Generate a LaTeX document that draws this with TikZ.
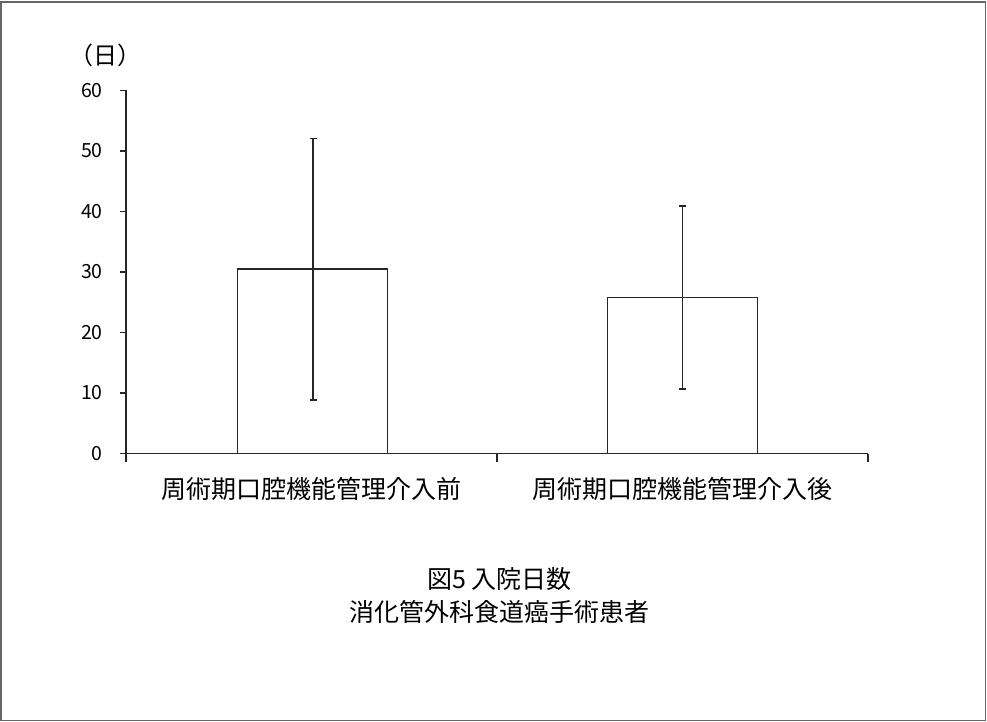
\documentclass[tikz,border=0pt]{standalone}
\usepackage{fontspec}
\setmainfont{Noto Sans CJK JP}
\begin{document}
\begin{tikzpicture}[x=1pt,y=-1pt,
  axisline/.style={line width=1.3pt,black!85},
  barbox/.style={line width=1.3pt,black!85,fill=white},
  errline/.style={line width=1.1pt,black!85},
  ticklabel/.style={anchor=east,inner sep=0pt,font=\fontsize{19.5}{19.5}\selectfont},
  catlabel/.style={inner sep=0pt,font=\fontsize{25}{25}\selectfont},
  titlelabel/.style={inner sep=0pt,align=center,font=\fontsize{25}{33}\selectfont}]
\useasboundingbox (0,0) rectangle (987,722);
% frame
\draw[line width=1.5pt,black!60] (1,2) rectangle (985.5,720.5);
% axis coordinates
\coordinate (o) at (126,453.5);
\coordinate (ytop) at (126,90.5);
\coordinate (xend) at (868,453.5);
% bars
\draw[barbox] (237.5,453.5) rectangle (387.5,269);
\draw[barbox] (607.5,453.5) rectangle (757.5,297.5);
% error bars
\foreach \x/\t/\b in {313/138.3/400, 682.7/206/389}{
  \draw[errline] (\x,\t) -- (\x,\b);
  \draw[errline] (\x-3.5,\t) -- (\x+3.5,\t);
  \draw[errline] (\x-3.5,\b) -- (\x+3.5,\b);
}
% axes
\draw[axisline] (ytop) -- (o) -- (xend);
\foreach \v in {0,10,...,60}{
  \pgfmathsetmacro{\yy}{453.5-6.05*\v}
  \draw[axisline] (120,\yy) -- (126,\yy);
  \node[ticklabel] (t\v) at (103,\yy) {\v};
}
\foreach \x in {126,497,868}{
  \draw[axisline] (\x,453.5) -- (\x,462);
}
\node[inner sep=0pt,font=\fontsize{24}{24}\selectfont] (unit) at (105.5,55) {（日）};
\node[catlabel] (c1) at (311.5,489) {周術期口腔機能管理介入前};
\node[catlabel] (c2) at (682,489) {周術期口腔機能管理介入後};
\node[titlelabel] (title) at (499.5,595) {図5 入院日数\\消化管外科食道癌手術患者};
\end{tikzpicture}
\end{document}
